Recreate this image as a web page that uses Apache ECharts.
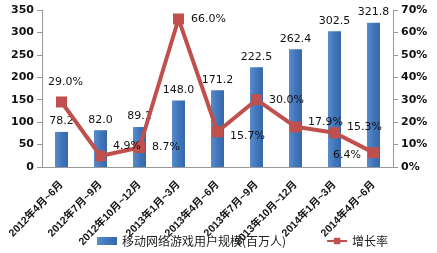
<!DOCTYPE html>
<html><head><meta charset="utf-8">
<script src="https://cdn.jsdelivr.net/npm/echarts@6/dist/echarts.min.js"></script>
<style>html,body{margin:0;padding:0;background:#fff}#c{width:437px;height:253px}</style>
</head><body><div id="c"></div>
<script>
const categories = ['2012年4月~6月','2012年7月~9月','2012年10月~12月','2013年1月~3月','2013年4月~6月','2013年7月~9月','2013年10月~12月','2014年1月~3月','2014年4月~6月'];
const users = [78.2, 82.0, 89.1, 148.0, 171.2, 222.5, 262.4, 302.5, 321.8];
const growth = [29.0, 4.9, 8.7, 66.0, 15.7, 30.0, 17.9, 15.3, 6.4];
const growthLabelPos = ['top','right','right','right','right','right','right','right','left'];
const growthLabelOffset = [[4,-2],[0,-10],[0,0],[0,0],[0,4],[0,0],[0,-5],[0,-6],[0,2]];
const barName = '移动网络游戏用户规模(百万人)';
const lineName = '增长率';

const font = '"DejaVu Sans", "Noto Sans CJK SC", sans-serif';
const chart = echarts.init(document.getElementById('c'), null, {renderer:'canvas'});
chart.setOption({
  animation: false,
  textStyle: {fontFamily: font},
  grid: {left: 42, right: 44, top: 10, bottom: 86, containLabel: false, outerBoundsMode: 'none'},
  legend: {
    bottom: 1, left: 92, itemGap: 40, itemWidth: 20, itemHeight: 8,
    textStyle: {fontSize: 12, color: '#222', fontFamily: '"Noto Sans CJK SC", sans-serif'},
    data: [{name: barName, icon: 'rect'}, {name: lineName}]
  },
  xAxis: {
    type: 'category', data: categories,
    axisLine: {lineStyle: {color: '#999'}},
    axisTick: {lineStyle: {color: '#999'}},
    axisLabel: {rotate: 46, fontSize: 10.5, color: '#111', fontWeight: 'bold', margin: 16, interval: 0, hideOverlap: false, fontFamily: '"Liberation Sans", "Noto Sans CJK SC", sans-serif'}
  },
  yAxis: [
    {type: 'value', min: 0, max: 350, interval: 50,
     splitLine: {show: false},
     axisLine: {show: true, lineStyle: {color: '#999'}},
     axisTick: {show: true, lineStyle: {color: '#999'}},
     axisLabel: {fontSize: 11, color: '#111', fontWeight: 'bold'}},
    {type: 'value', min: 0, max: 70, interval: 10,
     splitLine: {show: false},
     axisLine: {show: true, lineStyle: {color: '#999'}},
     axisTick: {show: true, lineStyle: {color: '#999'}},
     axisLabel: {fontSize: 11, color: '#111', fontWeight: 'bold', formatter: '{value}%'}}
  ],
  series: [
    {name: barName, type: 'bar', data: users, barWidth: 13,
     itemStyle: {color: new echarts.graphic.LinearGradient(0,0,1,0,[
       {offset:0,color:'#5a8ccc'},{offset:0.5,color:'#4276bb'},{offset:1,color:'#3567aa'}])},
     label: {show: true, position: 'top', fontSize: 11, color: '#111', distance: 5,
       formatter: p => p.value.toFixed(1)}},
    {name: lineName, type: 'line', yAxisIndex: 1, z: 5,
     data: growth.map((v,i) => ({value: v, label: {position: growthLabelPos[i], offset: growthLabelOffset[i]}})),
     symbol: 'rect', symbolSize: 11,
     lineStyle: {color: '#c0504d', width: 4},
     itemStyle: {color: '#c0504d'},
     label: {show: true, fontSize: 11, color: '#111', distance: 7,
       formatter: p => p.value.toFixed(1) + '%'}}
  ]
});
</script></body></html>
